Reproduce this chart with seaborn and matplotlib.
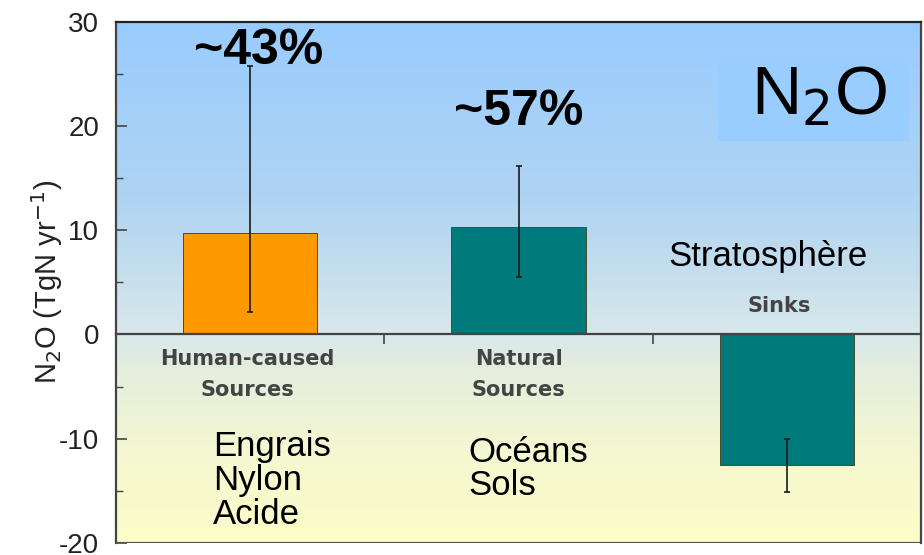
import matplotlib.pyplot as plt
import seaborn as sns
import pandas as pd
import numpy as np
from matplotlib.colors import LinearSegmentedColormap
from matplotlib.patches import Rectangle
from matplotlib.ticker import MultipleLocator

# Données (TgN par an)
categories = ["Human-caused Sources", "Natural Sources", "Sinks"]
valeurs = [9.7, 10.3, -12.5]
err_bas = [2.2, 5.5, -15.1]
err_haut = [25.8, 16.2, -10.0]
couleurs = ["#ff9900", "#007a7a", "#007a7a"]
pourcentages = ["~43%", "~57%"]

df = pd.DataFrame({"cat": categories, "val": valeurs})

sns.set_theme(style="white")
plt.rcParams['font.family'] = ['Liberation Sans', 'DejaVu Sans']
plt.rcParams['axes.unicode_minus'] = False

fig = plt.figure(figsize=(9.24, 5.55), dpi=100)
ax = fig.add_axes([0.1255, 0.022, 0.8713, 0.9384])

# fond dégradé bleu -> jaune pâle
fond = LinearSegmentedColormap.from_list("fond", [
    (0.0, "#99ccff"), (0.35, "#b0d4f2"), (0.6, "#d8e8ea"),
    (0.68, "#e6efdc"), (0.85, "#f6f8cf"), (1.0, "#fdfdc8")])
grad = np.linspace(0, 1, 256).reshape(-1, 1)
ax.imshow(grad, cmap=fond, aspect="auto", extent=[-0.5, 2.5, -20, 30],
          origin="upper", zorder=0)

sns.barplot(data=df, x="cat", y="val", hue="cat", palette=couleurs, saturation=1,
            width=0.5, edgecolor="#4a4a30", linewidth=0.7, legend=False,
            ax=ax, zorder=2)

x = np.arange(len(categories))
centre = np.array(valeurs)
yerr = [centre - np.minimum(err_bas, err_haut), np.maximum(err_bas, err_haut) - centre]
ax.errorbar(x, centre, yerr=yerr, fmt="none", ecolor="#1a1a1a", elinewidth=1.2,
            capsize=2.5, capthick=1.2, zorder=3)

ax.set_xlim(-0.5, 2.5)
ax.set_ylim(-20, 30)
ax.set_xlabel("")
ax.set_ylabel("N$_2$O (TgN yr$^{-1}$)", fontsize=21, color="#222222", labelpad=-4)

# axe x sur la ligne zéro
ax.spines["bottom"].set_position(("data", 0))
ax.axhline(-20, color="#555555", lw=1.6, zorder=4)
ax.set_xticks([0.5, 1.5])
ax.set_xticklabels([])
ax.tick_params(axis="x", direction="out", length=7, width=1.2, color="#444444", bottom=True)
ax.yaxis.set_major_locator(MultipleLocator(10))
ax.yaxis.set_minor_locator(MultipleLocator(5))
ax.tick_params(axis="y", which="major", direction="in", length=8, width=1.2,
               labelsize=20, pad=12, left=True, color="#444444", labelcolor="#222222")
ax.tick_params(axis="y", which="minor", direction="in", length=5, width=1.0,
               left=True, color="#444444")
for s in ["left", "right", "top", "bottom"]:
    ax.spines[s].set_color("#444444")
    ax.spines[s].set_linewidth(1.6)
ax.spines["top"].set_color("#222222")

# étiquettes de catégories
petit = dict(fontsize=15, color="#444444", fontweight="bold", ha="center", va="center",
             family="DejaVu Sans")
ax.text(-0.01, -2.4, "Human-caused", **petit)
ax.text(-0.01, -5.3, "Sources", **petit)
ax.text(1.0, -2.4, "Natural", **petit)
ax.text(1.0, -5.3, "Sources", **petit)
ax.text(1.97, 2.7, "Sinks", **petit)

# pourcentages
ax.text(0.03, 27.2, pourcentages[0], fontsize=36, fontweight="bold", color="black",
        ha="center", va="center", zorder=5)
ax.text(1.0, 21.4, pourcentages[1], fontsize=36, fontweight="bold", color="black",
        ha="center", va="center", zorder=5)

# encart N2O
ax.add_patch(Rectangle((1.744, 18.6), 0.712, 7.9, facecolor="#99ccff", edgecolor="none", zorder=1))
ax.text(2.12, 22.8, "N$_2$O", fontsize=50, color="black", ha="center", va="center", zorder=5)

ax.text(1.93, 7.5, "Stratosphère", fontsize=25, color="black", ha="center", va="center")
ax.text(-0.137, -9.2, "Engrais\nNylon\nAcide", fontsize=25, color="black",
        ha="left", va="top", linespacing=1.03)
ax.text(0.815, -9.7, "Océans\nSols", fontsize=25, color="black",
        ha="left", va="top", linespacing=1.03)

fig.savefig("out.png", dpi=100)
